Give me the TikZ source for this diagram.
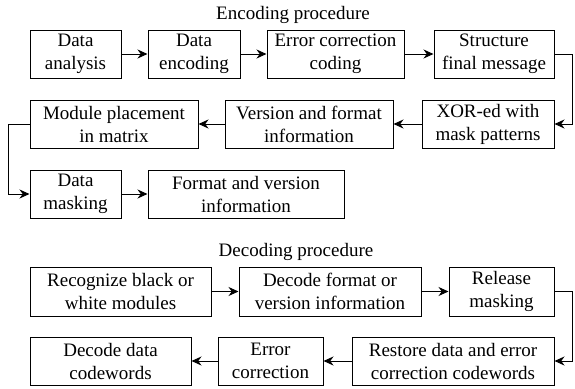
\documentclass[tikz,border=0pt]{standalone}
\usepackage{fontspec}
\setmainfont{Liberation Serif}
\newfontfamily\boxfont{Liberation Serif}
\usetikzlibrary{arrows.meta}
\begin{document}
\begin{tikzpicture}[x=1pt,y=-1pt,
	box/.style={draw,line width=1pt,rectangle,align=center,minimum height=48pt,inner sep=0pt,
		font=\boxfont\fontsize{19}{23}\selectfont},
	flow/.style={line width=1pt,-{Stealth[length=10pt,width=9pt]}},
	title/.style={font=\boxfont\fontsize{19}{23}\selectfont}]%procedure de codage
	
	\useasboundingbox (0,0) rectangle (575,388);
	
	% encodage
	\node[title] (enc) at (293,15) {Encoding procedure};
	\node[box,minimum width=91pt] (da) at (75.5,54) {Data\\analysis};
	\node[box,minimum width=92pt] (de) at (194,54) {Data\\encoding};
	\node[box,minimum width=137pt] (ecc) at (335.5,54) {Error correction\\coding};
	\node[box,minimum width=120pt] (sfm) at (494,54) {Structure\\final message};
	
	\node[box,minimum width=168pt] (mpm) at (114,124) {Module placement\\in matrix};
	\node[box,minimum width=168pt] (vfi) at (309,124) {Version and format\\information};
	\node[box,minimum width=132pt] (xor) at (488,124) {XOR-ed with\\mask patterns};
	
	\node[box,minimum width=91pt] (dm) at (75.5,194) {Data\\masking};
	\node[box,minimum width=196pt] (fvi) at (246,194) {Format and version\\information};
	
	\draw[flow] (da) -- (de);
	\draw[flow] (de) -- (ecc);
	\draw[flow] (ecc) -- (sfm);
	\draw[flow] (sfm.east) -- ++(18,0) |- (xor.east);
	\draw[flow] (xor) -- (vfi);
	\draw[flow] (vfi) -- (mpm);
	\draw[flow] (mpm.west) -- ++(-21,0) |- (dm.west);
	\draw[flow] (dm) -- (fvi);
	
	% decodage
	\node[title] (dec) at (296,252) {Decoding procedure};
	\node[box,minimum width=181pt,minimum height=49pt] (rbw) at (120.5,291.5) {Recognize black or\\white modules};
	\node[box,minimum width=182pt,minimum height=49pt] (dfv) at (330,291.5) {Decode format or\\version information};
	\node[box,minimum width=105pt,minimum height=49pt] (rm) at (501.5,291.5) {Release\\masking};
	
	\node[box,minimum width=161pt] (ddc) at (110.5,361) {Decode data\\codewords};
	\node[box,minimum width=105pt] (ec) at (270.5,361) {Error\\correction};
	\node[box,minimum width=202pt] (rde) at (453,361) {Restore data and error\\correction codewords};
	
	\draw[flow] (rbw) -- (dfv);
	\draw[flow] (dfv) -- (rm);
	\draw[flow] (rm.east) -- ++(18,0) |- (rde.east);
	\draw[flow] (rde) -- (ec);
	\draw[flow] (ec) -- (ddc);
\end{tikzpicture}
\end{document}
